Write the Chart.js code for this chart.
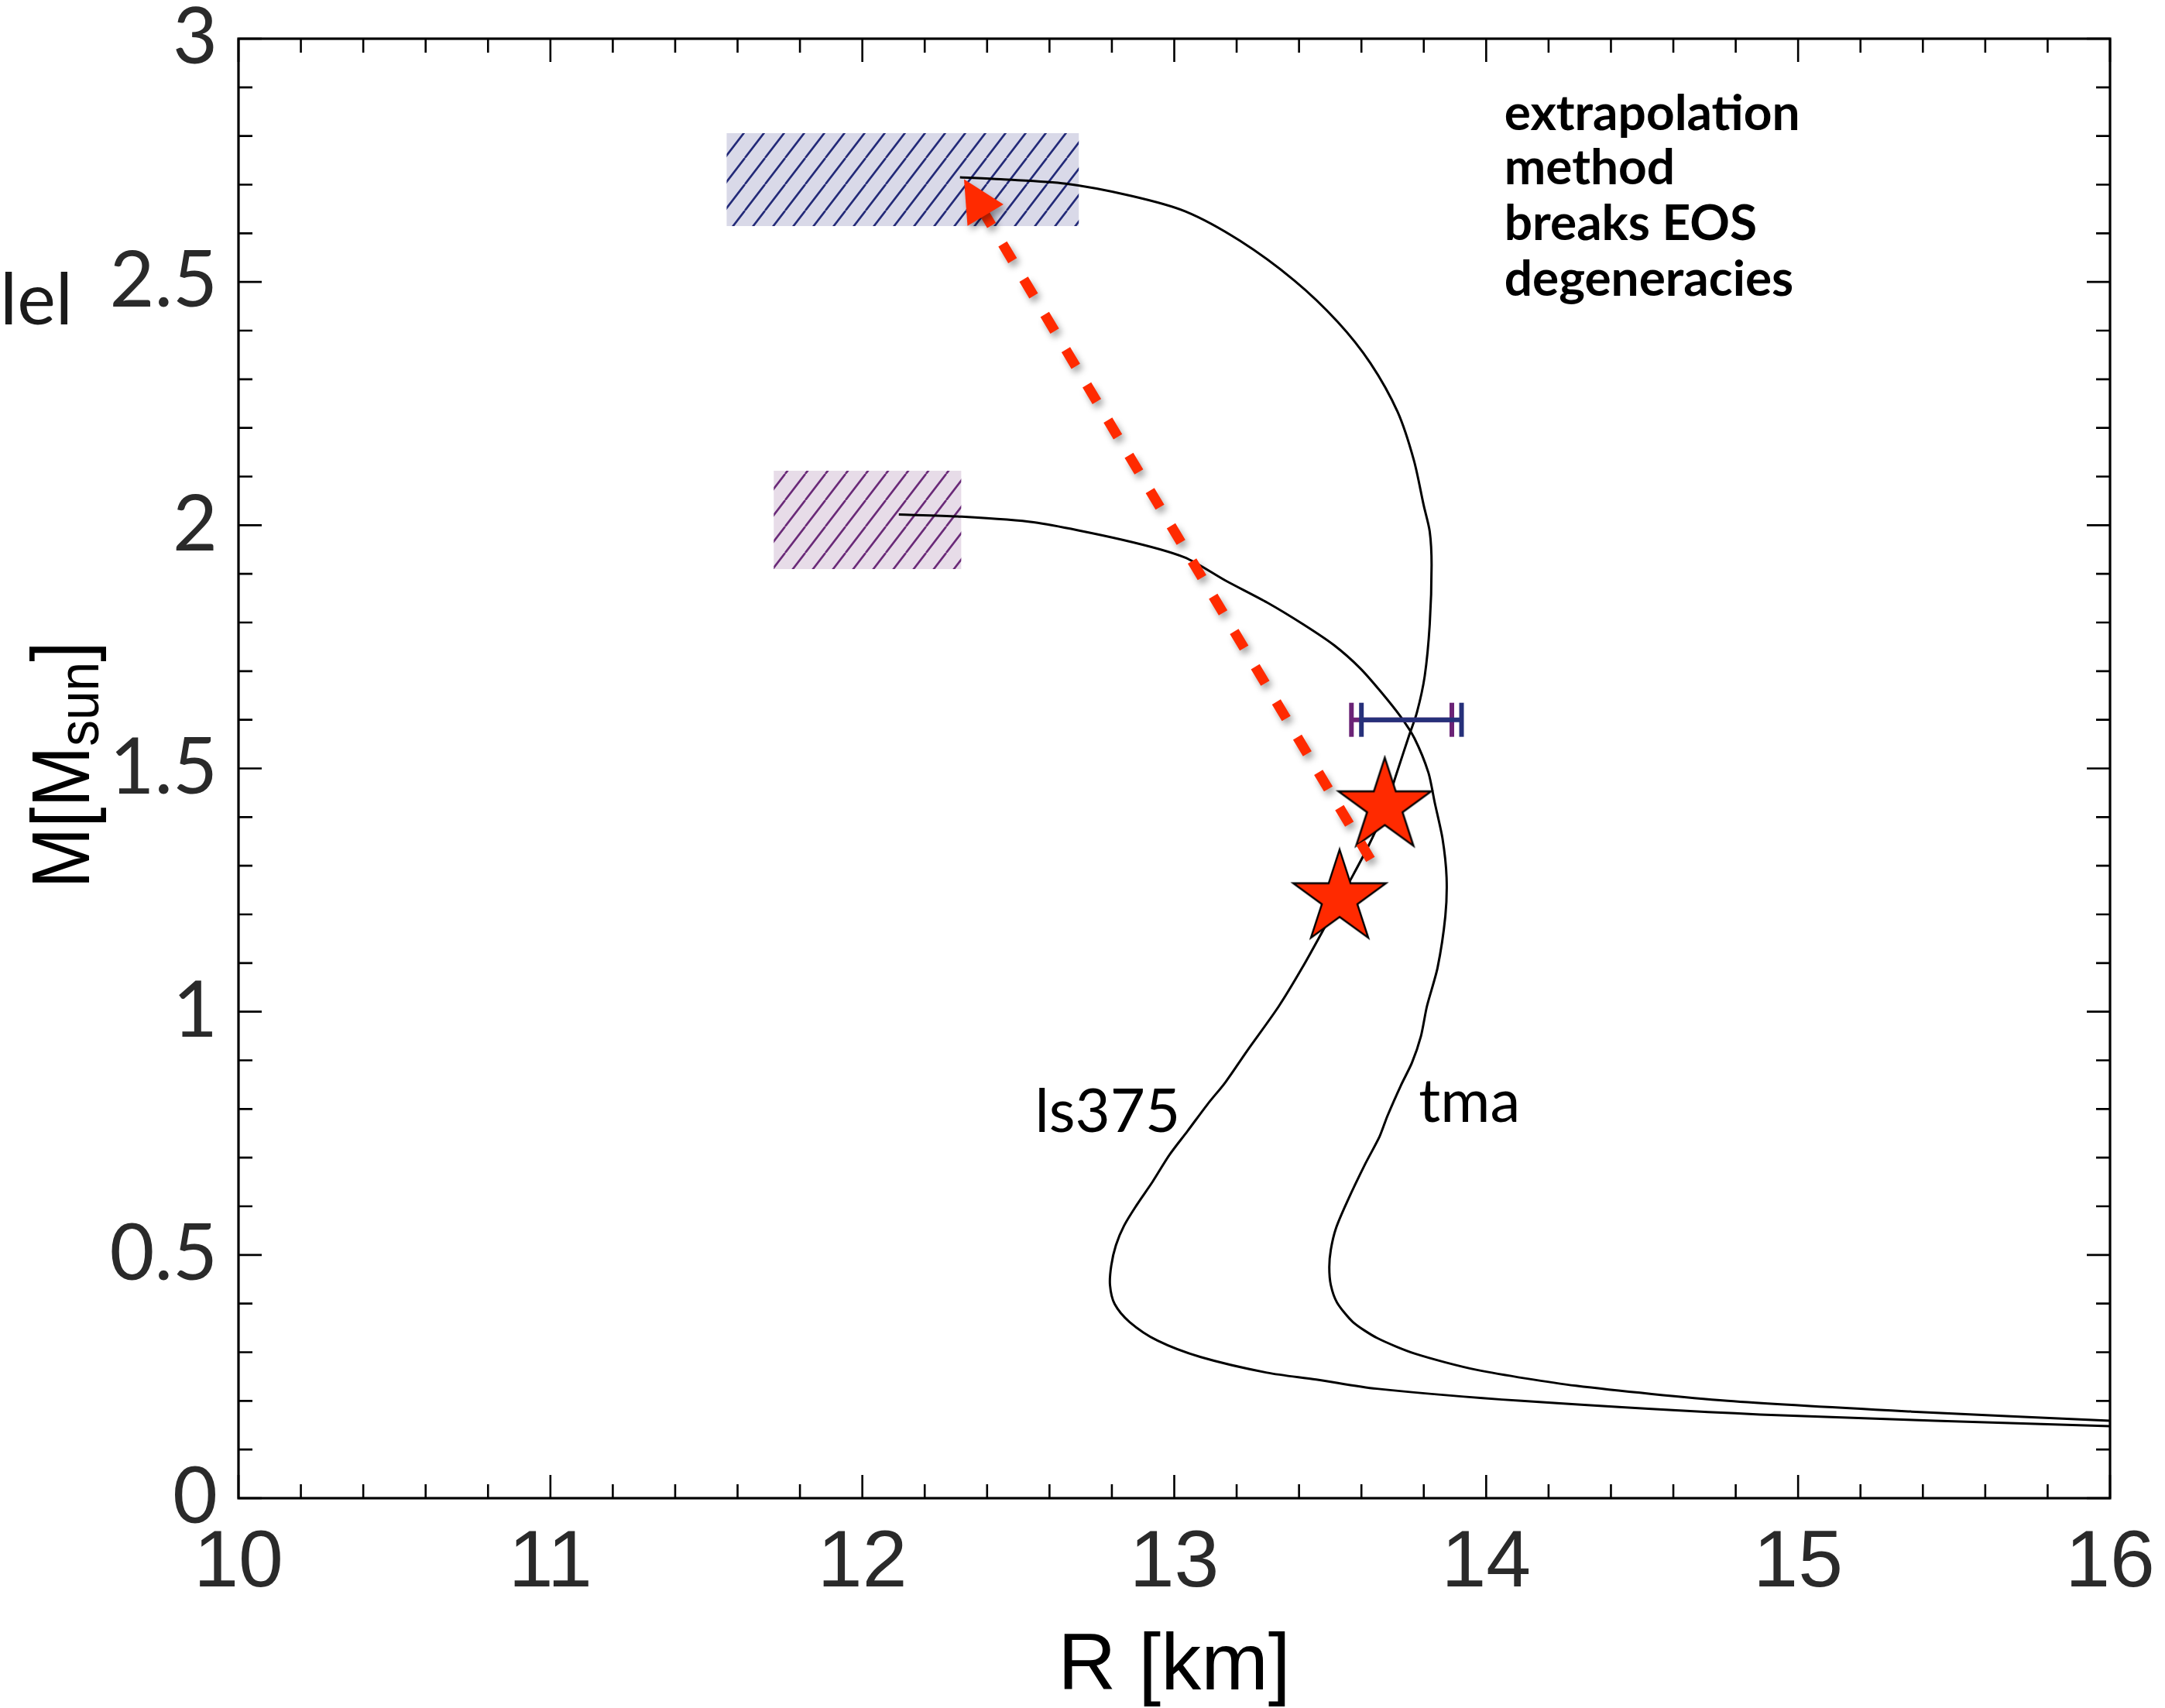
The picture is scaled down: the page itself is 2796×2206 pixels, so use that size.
<!DOCTYPE html>
<html>
<head>
<meta charset="utf-8">
<script src="https://cdn.jsdelivr.net/npm/chart.js@4.4.1/dist/chart.umd.min.js"></script>
<style>
  html, body { margin: 0; padding: 0; background: #fff; }
  #wrap { width: 2796px; height: 2206px; }
</style>
</head>
<body>
<div id="wrap"><canvas id="chart" width="2796" height="2206"></canvas></div>
<script>
// mass-radius curves, R [km] and M [Msun]
const ls375R = [12.313, 12.444, 12.653, 12.862, 13.036, 13.210, 13.385, 13.524, 13.629, 13.716, 13.768, 13.800, 13.819, 13.825,
  13.819, 13.803, 13.778, 13.753, 13.712, 13.672, 13.622, 13.560, 13.488, 13.410, 13.335, 13.233, 13.164, 13.107, 13.043,
  12.985, 12.931, 12.880, 12.839, 12.813, 12.798, 12.794, 12.809, 12.857, 12.946, 13.085, 13.297, 13.455, 13.649, 14.114,
  14.878, 16.0];
const ls375M = [2.715, 2.711, 2.702, 2.677, 2.645, 2.585, 2.503, 2.418, 2.333, 2.233, 2.134, 2.040, 1.987, 1.918,
  1.796, 1.690, 1.615, 1.568, 1.488, 1.410, 1.340, 1.265, 1.180, 1.090, 1.011, 0.919, 0.855, 0.810, 0.755,
  0.706, 0.651, 0.603, 0.560, 0.520, 0.478, 0.438, 0.399, 0.362, 0.324, 0.290, 0.258, 0.244, 0.225, 0.200,
  0.172, 0.148];
const tmaR = [12.117, 12.305, 12.549, 12.834, 13.033, 13.165, 13.298, 13.414, 13.513, 13.596, 13.662, 13.724, 13.770,
  13.815, 13.835, 13.860, 13.873, 13.869, 13.844, 13.810, 13.791, 13.762, 13.727, 13.683, 13.658, 13.613, 13.554,
  13.518, 13.502, 13.497, 13.502, 13.522, 13.573, 13.651, 13.772, 13.968, 14.288, 14.774, 15.364, 16.0];
const tmaM = [2.022, 2.018, 2.006, 1.970, 1.934, 1.886, 1.841, 1.796, 1.753, 1.706, 1.658, 1.608, 1.562,
  1.491, 1.430, 1.356, 1.276, 1.196, 1.090, 1.011, 0.950, 0.895, 0.849, 0.785, 0.743, 0.688, 0.609,
  0.554, 0.511, 0.475, 0.438, 0.402, 0.362, 0.329, 0.297, 0.264, 0.231, 0.200, 0.178, 0.159];

// the two stars
const starR = [13.53, 13.675];
const starM = [1.233, 1.422];

// dashed arrow, tail then tip
const arrowR = [13.629, 12.326];
const arrowM = [1.313, 2.711];

// max mass boxes: [Rmin, Rmax, Mmin, Mmax]
const boxLs375 = [11.565, 12.694, 2.615, 2.806];
const boxTma = [11.716, 12.317, 1.910, 2.112];

// radius error bars at M = 1.6
const errPurpleR = [13.568, 13.890];
const errNavyR = [13.600, 13.921];
const errM = [1.6, 1.6];

const xTickLabels = ['10', '11', '12', '13', '14', '15', '16'];
const yTickLabels = ['0', '0.5', '1', '1.5', '2', '2.5', '3'];

const pts = (xs, ys) => xs.map((x, i) => ({ x: x, y: ys[i] }));
const boxPts = b => [{ x: b[0], y: b[2] }, { x: b[1], y: b[2] }, { x: b[1], y: b[3] }, { x: b[0], y: b[3] }, { x: b[0], y: b[2] }];

const RED = '#ff2a00';

function hatch(bg, fg) {
  const w = 26, h = 34;
  const c = document.createElement('canvas');
  c.width = w; c.height = h;
  const g = c.getContext('2d');
  g.fillStyle = bg;
  g.fillRect(0, 0, w, h);
  g.strokeStyle = fg;
  g.lineWidth = 2.6;
  g.beginPath();
  for (const dx of [-w, 0, w]) {
    g.moveTo(dx, h);
    g.lineTo(dx + w, 0);
  }
  g.stroke();
  return g.createPattern(c, 'repeat');
}

function starImage(R, color) {
  const r = R * 0.382, s = Math.ceil(2 * R + 8);
  const c = document.createElement('canvas');
  c.width = s; c.height = s;
  const g = c.getContext('2d');
  g.translate(s / 2, s / 2);
  g.beginPath();
  for (let i = 0; i < 10; i++) {
    const rad = i % 2 ? r : R;
    const a = -Math.PI / 2 + i * Math.PI / 5;
    g.lineTo(rad * Math.cos(a), rad * Math.sin(a));
  }
  g.closePath();
  g.fillStyle = color;
  g.fill();
  g.lineWidth = 2.4;
  g.strokeStyle = '#000';
  g.stroke();
  return c;
}

// no extra room for first/last labels, the layout padding decides
const noPad = s => { s.paddingTop = 0; s.paddingBottom = 0; s.paddingLeft = 0; s.paddingRight = 0; };

// box frame + inward ticks on all four sides
const frame = {
  id: 'frame',
  afterDatasetsDraw(chart) {
    const { ctx, chartArea: a, scales: { x, y } } = chart;
    ctx.save();
    ctx.strokeStyle = '#000';
    ctx.lineWidth = 2.6;
    ctx.beginPath();
    for (let i = 0; i <= 30; i++) {
      const px = x.getPixelForValue(10 + i * 0.2);
      const len = i % 5 === 0 ? 30 : 18;
      ctx.moveTo(px, a.bottom); ctx.lineTo(px, a.bottom - len);
      ctx.moveTo(px, a.top); ctx.lineTo(px, a.top + len);
    }
    for (let i = 0; i <= 30; i++) {
      const py = y.getPixelForValue(i * 0.1);
      const len = i % 5 === 0 ? 30 : 18;
      ctx.moveTo(a.left, py); ctx.lineTo(a.left + len, py);
      ctx.moveTo(a.right, py); ctx.lineTo(a.right - len, py);
    }
    ctx.stroke();
    ctx.lineWidth = 3.2;
    ctx.strokeRect(a.left, a.top, a.right - a.left, a.bottom - a.top);
    ctx.restore();
  }
};

// shadow for the arrow, keep the dash out of the head, then draw the head
const arrowFx = {
  id: 'arrowFx',
  beforeDatasetDraw(chart, args) {
    if (chart.data.datasets[args.index].label !== 'arrow') return;
    const { ctx, scales: { x, y } } = chart;
    const tx = x.getPixelForValue(arrowR[1]), ty = y.getPixelForValue(arrowM[1]);
    ctx.save();
    ctx.beginPath();
    ctx.rect(0, 0, chart.width, chart.height);
    ctx.arc(tx, ty, 40, 0, 2 * Math.PI);
    ctx.clip('evenodd');
    ctx.shadowColor = 'rgba(0,0,0,0.35)';
    ctx.shadowBlur = 8;
    ctx.shadowOffsetX = 4;
    ctx.shadowOffsetY = 6;
  },
  afterDatasetDraw(chart, args) {
    if (chart.data.datasets[args.index].label !== 'arrow') return;
    const { ctx, scales: { x, y } } = chart;
    ctx.restore();
    const x0 = x.getPixelForValue(arrowR[0]), y0 = y.getPixelForValue(arrowM[0]);
    const x1 = x.getPixelForValue(arrowR[1]), y1 = y.getPixelForValue(arrowM[1]);
    const d = Math.hypot(x1 - x0, y1 - y0);
    const ux = (x1 - x0) / d, uy = (y1 - y0) / d;
    const L = 54, W = 27;
    ctx.save();
    ctx.shadowColor = 'rgba(0,0,0,0.35)';
    ctx.shadowBlur = 8;
    ctx.shadowOffsetX = 4;
    ctx.shadowOffsetY = 6;
    ctx.fillStyle = RED;
    ctx.beginPath();
    ctx.moveTo(x1, y1);
    ctx.lineTo(x1 - L * ux - W * uy, y1 - L * uy + W * ux);
    ctx.lineTo(x1 - L * ux + W * uy, y1 - L * uy - W * ux);
    ctx.closePath();
    ctx.fill();
    ctx.restore();
  }
};

// texts: axis titles, curve names, the note
const notes = {
  id: 'notes',
  afterDraw(chart) {
    const { ctx, chartArea: a, scales: { x, y } } = chart;
    ctx.save();
    ctx.fillStyle = '#000';
    ctx.textBaseline = 'alphabetic';

    ctx.textAlign = 'center';
    ctx.font = '104px "Liberation Sans", Arial, sans-serif';
    ctx.fillText('R [km]', (a.left + a.right) / 2, 2182);

    // M[M_sun], rotated
    ctx.save();
    ctx.translate(115, 988);
    ctx.rotate(-Math.PI / 2);
    ctx.scale(0.9, 1);
    ctx.textAlign = 'left';
    const big = '105px "Liberation Sans", Arial, sans-serif';
    const small = '75px "Liberation Sans", Arial, sans-serif';
    ctx.font = big; const w1 = ctx.measureText('M[M').width;
    ctx.font = small; const w2 = ctx.measureText('sun').width;
    ctx.font = big; const w3 = ctx.measureText(']').width;
    const s = -(w1 + w2 + w3) / 2;
    ctx.font = big; ctx.fillText('M[M', s, 0);
    ctx.font = small; ctx.fillText('sun', s + w1, 12);
    ctx.font = big; ctx.fillText(']', s + w1 + w2, 0);
    ctx.restore();

    ctx.textAlign = 'left';
    ctx.fillStyle = '#1a1a1a';
    ctx.font = '94px Lato, sans-serif';
    ctx.fillText('lel', 0, 419);

    ctx.fillStyle = '#000';
    ctx.font = '78px Lato, sans-serif';
    ctx.fillText('ls375', x.getPixelForValue(12.553), y.getPixelForValue(0.752));
    ctx.fillText('tma', x.getPixelForValue(13.784), y.getPixelForValue(0.773));

    ctx.font = 'bold 64px Lato, sans-serif';
    const lines = ['extrapolation', 'method', 'breaks EOS', 'degeneracies'];
    const base = [2.812, 2.701, 2.587, 2.472];
    lines.forEach((t, i) => ctx.fillText(t, x.getPixelForValue(14.058), y.getPixelForValue(base[i])));
    ctx.restore();
  }
};

new Chart(document.getElementById('chart'), {
  type: 'scatter',
  data: {
    datasets: [
      {
        label: 'box-ls375', data: boxPts(boxLs375), showLine: true, fill: 'shape',
        backgroundColor: hatch('#d9d9e8', '#232a78'), borderColor: 'transparent', borderWidth: 0, pointRadius: 0, order: 10
      },
      {
        label: 'box-tma', data: boxPts(boxTma), showLine: true, fill: 'shape',
        backgroundColor: hatch('#e7dce8', '#6a2a78'), borderColor: 'transparent', borderWidth: 0, pointRadius: 0, order: 10
      },
      {
        label: 'ls375', data: pts(ls375R, ls375M), showLine: true, borderColor: '#000', borderWidth: 3,
        pointRadius: 0, tension: 0.3, order: 8
      },
      {
        label: 'tma', data: pts(tmaR, tmaM), showLine: true, borderColor: '#000', borderWidth: 3,
        pointRadius: 0, tension: 0.25, order: 8
      },
      {
        label: 'err-purple', data: pts(errPurpleR, errM), showLine: true, borderColor: '#6b2376', borderWidth: 6,
        pointStyle: 'line', rotation: 90, pointRadius: 22, pointBorderWidth: 6, pointBorderColor: '#6b2376', order: 7
      },
      {
        label: 'err-navy', data: pts(errNavyR, errM), showLine: true, borderColor: '#26307a', borderWidth: 6,
        pointStyle: 'line', rotation: 90, pointRadius: 22, pointBorderWidth: 6, pointBorderColor: '#26307a', order: 6
      },
      {
        label: 'stars', data: pts(starR, starM), showLine: false,
        pointStyle: starImage(63, RED), pointRadius: 63, order: 4
      },
      {
        label: 'arrow', data: pts(arrowR, arrowM), showLine: true, borderColor: RED, borderWidth: 13,
        borderDash: [25, 28], pointRadius: 0, order: 2
      }
    ]
  },
  options: {
    responsive: false,
    animation: false,
    devicePixelRatio: 1,
    layout: { autoPadding: false, padding: { top: 50, right: 71, left: 0, bottom: 0 } },
    plugins: { legend: { display: false }, tooltip: { enabled: false } },
    scales: {
      x: {
        type: 'linear', min: 10, max: 16,
        afterFit: s => { s.height = 271; noPad(s); },
        grid: { display: false, drawTicks: false },
        border: { display: false },
        ticks: {
          stepSize: 1, padding: 23, maxRotation: 0, autoSkip: false, color: '#2a2a2a',
          font: { family: '"Liberation Sans", Arial, sans-serif', size: 104 },
          callback: (v, i) => xTickLabels[i]
        }
      },
      y: {
        type: 'linear', min: 0, max: 3,
        afterFit: s => { s.width = 308; noPad(s); },
        grid: { display: false, drawTicks: false },
        border: { display: false },
        ticks: {
          stepSize: 0.5, padding: 27, autoSkip: false, color: '#2a2a2a',
          font: { family: 'Lato, sans-serif', size: 100, lineHeight: 0.8 },
          callback: (v, i) => yTickLabels[i]
        }
      }
    }
  },
  plugins: [frame, arrowFx, notes]
});
</script>
</body>
</html>
